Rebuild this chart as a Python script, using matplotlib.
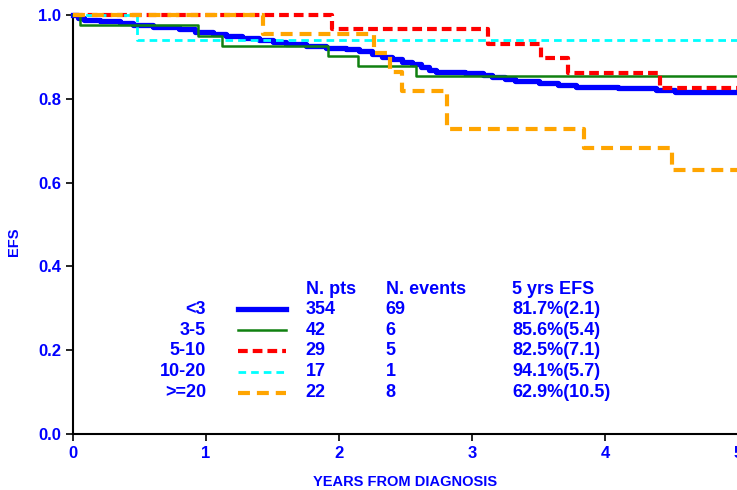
import matplotlib
matplotlib.use("Agg")
import matplotlib.pyplot as plt

plt.rcParams['font.family'] = ['Liberation Sans', 'DejaVu Sans']
plt.rcParams['font.weight'] = 'bold'
plt.rcParams['lines.scale_dashes'] = False

# Kaplan-Meier step data (time in years, EFS after the step)
t_lt3 = [0, 0.04, 0.08, 0.2, 0.35, 0.45, 0.6, 0.8, 0.92, 1.05, 1.15, 1.27, 1.4, 1.5,
         1.6, 1.75, 1.9, 2.05, 2.15, 2.25, 2.32, 2.4, 2.47, 2.55, 2.62, 2.68, 2.73,
         2.95, 3.08, 3.15, 3.25, 3.32, 3.5, 3.65, 3.78, 4.10, 4.38, 4.53, 5.0]
s_lt3 = [1.0, 0.994, 0.988, 0.985, 0.980, 0.976, 0.972, 0.966, 0.960, 0.955, 0.950,
         0.944, 0.940, 0.935, 0.931, 0.927, 0.922, 0.918, 0.913, 0.906, 0.900, 0.895,
         0.889, 0.882, 0.876, 0.869, 0.865, 0.861, 0.857, 0.852, 0.847, 0.843, 0.838,
         0.833, 0.829, 0.825, 0.821, 0.817, 0.817]

t_3_5 = [0, 0.05, 0.94, 1.12, 1.92, 2.14, 2.58, 5.0]
s_3_5 = [1.0, 0.976, 0.951, 0.926, 0.903, 0.879, 0.855, 0.855]

t_5_10 = [0, 1.945, 3.12, 3.52, 3.72, 4.41, 5.0]
s_5_10 = [1.0, 0.966, 0.931, 0.897, 0.862, 0.825, 0.825]

t_10_20 = [0, 0.48, 5.0]
s_10_20 = [1.0, 0.941, 0.941]

t_ge20 = [0, 1.43, 2.26, 2.38, 2.47, 2.81, 3.84, 4.50, 5.0]
s_ge20 = [1.0, 0.955, 0.909, 0.864, 0.818, 0.727, 0.682, 0.629, 0.629]

groups = ['<3', '3-5', '5-10', '10-20', '>=20']
n_pts = ['354', '42', '29', '17', '22']
n_events = ['69', '6', '5', '1', '8']
efs_5y = ['81.7%(2.1)', '85.6%(5.4)', '82.5%(7.1)', '94.1%(5.7)', '62.9%(10.5)']

styles = [
    dict(color='#0000FF', lw=3.8, ls='-'),
    dict(color='#108010', lw=1.8, ls='-'),
    dict(color='#FF0000', lw=3.0, ls=(0, (7, 3.6))),
    dict(color='#00FFFF', lw=2.0, ls=(0, (5.5, 3.6))),
    dict(color='#FFA500', lw=3.0, ls=(0, (8.6, 5))),
]
curves = [(t_lt3, s_lt3), (t_3_5, s_3_5), (t_5_10, s_5_10),
          (t_10_20, s_10_20), (t_ge20, s_ge20)]

fig = plt.figure(figsize=(7.37, 4.90), dpi=100)
ax = fig.add_axes([73 / 737, 56 / 490, 665 / 737, 419 / 490])

# draw order: blue, green, cyan, orange, red
for i in [0, 1, 3, 4, 2]:
    t, s = curves[i]
    ax.step(t, s, where='post', clip_on=False, zorder=3 + i * 0.1, **styles[i])

ax.set_xlim(0, 5)
ax.set_ylim(0, 1)
ax.set_xticks([0, 1, 2, 3, 4, 5])
ax.set_yticks([0, 0.2, 0.4, 0.6, 0.8, 1.0])
ax.set_yticklabels(['0.0', '0.2', '0.4', '0.6', '0.8', '1.0'])
for lab in ax.get_xticklabels() + ax.get_yticklabels():
    lab.set_fontweight('bold')
for sp in ['top', 'right']:
    ax.spines[sp].set_visible(False)
for sp in ['left', 'bottom']:
    ax.spines[sp].set_linewidth(1.5)
ax.tick_params(axis='both', colors='black', labelcolor='blue', labelsize=12,
               width=1.2, length=5, direction='out')
ax.set_xlabel('YEARS FROM DIAGNOSIS', color='blue', fontsize=10.5,
              fontweight='bold', labelpad=10)
ax.set_ylabel('EFS', color='blue', fontsize=10.5, fontweight='bold')
ax.yaxis.set_label_coords(-0.078, 0.46)

# legend table
fs = 13
head_y = 0.344
row_y = [0.298, 0.248, 0.199, 0.149, 0.099]
kw = dict(color='blue', fontsize=fs, fontweight='bold', va='center')
ax.text(1.75, head_y, 'N. pts', **kw)
ax.text(2.35, head_y, 'N. events', **kw)
ax.text(3.30, head_y, '5 yrs EFS', **kw)
for i, g in enumerate(groups):
    y = row_y[i]
    ax.text(1.0, y, g, ha='right', **kw)
    ax.plot([1.24, 1.60], [y, y], **styles[i])
    ax.text(1.75, y, n_pts[i], **kw)
    ax.text(2.35, y, n_events[i], **kw)
    ax.text(3.30, y, efs_5y[i], **kw)

fig.savefig('out.png', dpi=100)
